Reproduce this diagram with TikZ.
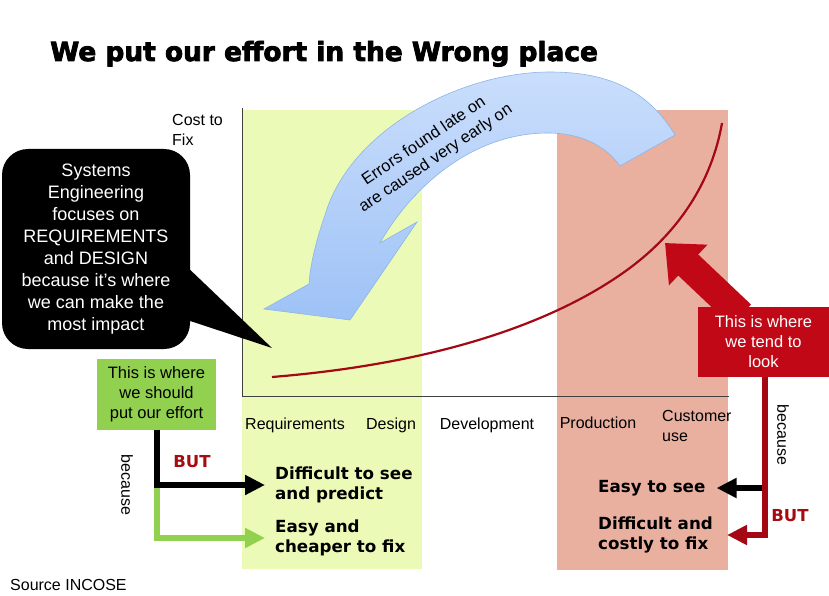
\documentclass[tikz,border=0pt]{standalone}
\usepackage{fontspec}
\setmainfont{Liberation Sans}
\newfontfamily\verdana{DejaVu Sans}
\newfontfamily\heavy{DejaVu Sans}[BoldFeatures={FakeBold=3}]
\usetikzlibrary{arrows.meta,positioning}

\definecolor{bandgreen}{RGB}{235,250,182}
\definecolor{bandred}{RGB}{233,176,160}
\definecolor{effortgreen}{RGB}{146,208,80}
\definecolor{lookred}{RGB}{192,8,22}
\definecolor{darkred}{RGB}{163,8,20}
\definecolor{butred}{RGB}{165,12,18}
\definecolor{bluetop}{RGB}{202,222,252}
\definecolor{bluebot}{RGB}{158,194,246}
\definecolor{blueedge}{RGB}{140,180,232}

\begin{document}
\begin{tikzpicture}[
  x=1pt, y=-1pt,
  txt/.style={font=\fontsize{16}{20}\selectfont, inner sep=0pt},
  keypt/.style={font=\verdana\bfseries\fontsize{16.7}{20}\selectfont,
                align=left, inner sep=0pt, anchor=west},
  but/.style={font=\verdana\bfseries\fontsize{16.5}{20}\selectfont,
              text=butred, inner sep=0pt},
  box/.style={align=center, inner sep=0pt, font=\fontsize{16.5}{20}\selectfont},
  bubble/.style={fill=black, text=white, rounded corners=26pt, align=center,
                 minimum width=188pt, minimum height=200pt, inner sep=0pt,
                 font=\fontsize{18}{22}\selectfont},
  arr/.style={line width=6pt, -{Triangle[length=20pt,width=19pt]}},
  bigarrow/.style={line width=29pt, lookred, -{Triangle[length=32pt,width=54pt]}}
]
\useasboundingbox (0,0) rectangle (829,596);

% phases in the background
\fill[bandgreen] (242,110) rectangle (422,569);
\fill[bandred] (557,110) rectangle (728,570);
\draw[black!75, line width=0.8pt] (242,108) -- (242,396) -- (729,396);

\node[anchor=base west, inner sep=0pt,
      font=\heavy\bfseries\fontsize{26.4}{30}\selectfont] (title) at (50,61)
  {We put our effort in the Wrong place};

\node[txt, align=left, anchor=west] (cost) at (172,130) {Cost to\\Fix};

% cost to fix curve
\draw[darkred, line width=2.2pt]
  (272,377) .. controls (420,365) and (540,330) .. (620,275)
  .. controls (680,234) and (712,180) .. (722,123);

% curved arrow
\path[draw=blueedge, line width=0.6pt, top color=bluetop, bottom color=bluebot]
  (675,135) .. controls (645,85) and (600,72) .. (550,72)
  .. controls (460,72) and (350,130) .. (325,215)
  .. controls (313,250) and (310,270) .. (309,284)
  -- (264,309) -- (350,320) -- (417,222) -- (380,243)
  .. controls (410,190) and (470,133) .. (548,133)
  .. controls (580,133) and (605,145) .. (620,166) -- cycle;
\node[box, rotate=34, font=\fontsize{16.5}{21}\selectfont] (errors) at (430,150)
  {Errors found late on\\are caused very early on};

% systems engineering callout
\node[bubble] (se) at (96,249)
  {Systems\\Engineering\\focuses on\\REQUIREMENTS\\and DESIGN\\because it’s where\\we can make the\\most impact};
\coordinate (impact) at (272,348);
\fill ([xshift=-3pt,yshift=-18pt]se.east) -- (impact) -- ([xshift=-3pt,yshift=-71pt]se.east) -- cycle;

% phase labels
\node[txt, anchor=base] (req) at (295,429) {Requirements};
\node[txt, anchor=base] (des) at (391,429) {Design};
\node[txt, anchor=base] (dev) at (487,429) {Development};
\node[txt, anchor=base] (prod) at (598,428) {Production};
\node[txt, align=left, anchor=north west] (cust) at (662,410) {Customer\\use};

% left side
\node[box, fill=effortgreen, minimum width=119pt, minimum height=71pt] (effort)
  at (156.5,394) {This is where\\we should\\put our effort};
\node[keypt] (predict) at (275,485) {Difficult to see\\and predict};
\node[keypt] (cheap) at (275,538) {Easy and\\cheaper to fix};
\coordinate (split) at (effort.south |- predict.west);
\draw[arr, effortgreen] (split) |- ([xshift=-10pt]cheap.west);
\draw[arr, black] (effort.south) |- ([xshift=-10pt]predict.west);
\node[txt, rotate=-90] (because1) at (127,485) {because};
\node[but] (but1) at (192,462) {BUT};

% right side
\coordinate (lookfoot) at (741,315);
\coordinate (lookat) at (665,243);
\draw[bigarrow] (lookfoot) -- (lookat);
\node[box, fill=lookred, text=white, minimum width=131pt, minimum height=70pt]
  (look) at (763.5,342) {This is where\\we tend to\\look};
\node[keypt] (easy) at (598,488) {Easy to see};
\node[keypt] (costly) at (598,535) {Difficult and\\costly to fix};
\draw[arr, black] (look.south |- easy.east) -- ([xshift=11pt]easy.east);
\draw[arr, darkred] ([xshift=1.5pt]look.south) |- ([xshift=14pt]costly.east);
\node[txt, rotate=-90] (because2) at (783,435) {because};
\node[but] (but2) at (790,516) {BUT};

\node[txt, anchor=base west] (source) at (10,590) {Source INCOSE};
\end{tikzpicture}
\end{document}
